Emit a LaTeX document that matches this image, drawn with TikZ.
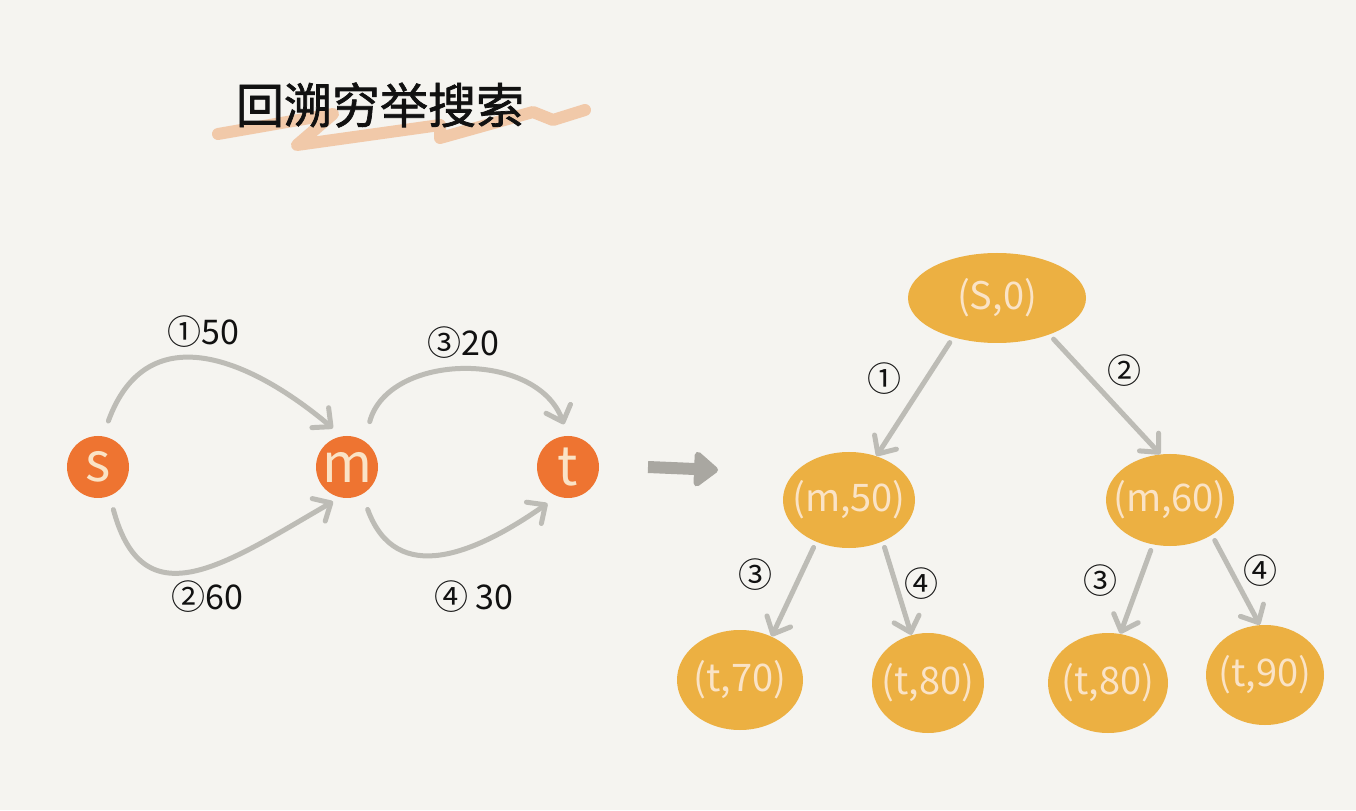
\documentclass[tikz,border=0pt]{standalone}
\usepackage{fontspec}
\setmainfont{Noto Sans CJK SC}
\newfontfamily\titlefont[FakeBold=1.5]{Noto Sans CJK SC}
\usetikzlibrary{shapes.geometric,arrows.meta}

\definecolor{paper}{HTML}{F5F4F0}
\definecolor{nodeorange}{HTML}{EE7431}
\definecolor{stateyellow}{HTML}{ECB042}
\definecolor{cream}{HTML}{FAE3C6}
\definecolor{edgegray}{HTML}{BDBCB6}
\definecolor{arrowgray}{HTML}{A9A7A1}
\definecolor{brush}{HTML}{F0B284}
\definecolor{ink}{HTML}{111111}

\def\Vy{343}
\def\Sx{98}
\def\Mx{347}
\def\Tx{568}

\begin{document}
\begin{tikzpicture}[x=0.5pt, y=0.5pt,
    vertex/.style={circle, fill=nodeorange, text=cream, minimum size=31pt, inner sep=0pt, font=\fontsize{27}{27}\selectfont},
    state/.style={ellipse, fill=stateyellow, text=cream, inner sep=-10pt, font=\fontsize{19}{19}\selectfont},
    edge/.style={draw=edgegray, line width=2.5pt, line cap=round, -{Straight Barb[length=7pt,width=13pt,round]}},
    weight/.style={text=ink, inner sep=1pt, font=\fontsize{17}{17}\selectfont}]
    \fill[paper] (0,0) rectangle (1356,810);
    \useasboundingbox (0,0) rectangle (1356,810);

    \draw[brush, opacity=0.65, line width=6pt, line cap=round, line join=round]
        (218,676) -- (333,696) -- (297,665) -- (440,685) -- (440,672) -- (533,698) -- (553,690) -- (585,700);
    \node[text=ink, font=\titlefont\fontsize{24}{24}\selectfont] (title) at (380,705) {回溯穷举搜索};

    \node[vertex] (s) at (\Sx,\Vy) {s};
    \node[vertex] (m) at (\Mx,\Vy) {m};
    \node[vertex] (t) at (\Tx,\Vy) {t};

    \draw[edge, shorten <=8pt, shorten >=6pt] (s.81) to[out=70, in=140, looseness=1.35] node[midway, weight, above=4.5pt, xshift=0.5pt] (w1) {①50} (m.99);
    \draw[edge, shorten <=7pt, shorten >=4pt] (s.-68) to[out=-75, in=-150, looseness=1.45] node[midway, weight, below=4pt, xshift=6pt] (w2) {②60} (m.-103);
    \draw[edge, shorten <=10pt, shorten >=6pt] (m.56) to[out=75, in=110, looseness=1.15] node[midway, weight, above=5pt] (w3) {③20} (t.90);
    \draw[edge, shorten <=8pt, shorten >=6pt] (m.-61) to[out=-70, in=-145, looseness=1.3] node[midway, weight, below=12pt, xshift=16pt] (w4) {④ 30} (t.-110);

    \coordinate (go) at (648,343);
    \coordinate (gone) at (718,340);
    \draw[arrowgray, line width=6pt, -{Triangle[length=13pt,width=20pt,round]}] (go) -- (gone);

    \node[state, minimum width=89pt, minimum height=45pt] (S0) at (997,512) {(S,0)};
    \node[state, minimum width=66pt, minimum height=48pt] (m50) at (849,310) {(m,50)};
    \node[state, minimum width=64pt, minimum height=46pt] (m60) at (1170,310) {(m,60)};
    \node[state, minimum width=63pt, minimum height=50pt] (t70) at (740,130) {(t,70)};
    \node[state, minimum width=56pt, minimum height=50pt] (t80a) at (928,127) {(t,80)};
    \node[state, minimum width=60pt, minimum height=50pt] (t80b) at (1108,127) {(t,80)};
    \node[state, minimum width=59pt, minimum height=50pt] (t90) at (1265,135) {(t,90)};

    \draw[edge, shorten <=3pt] (S0.222) -- node[pos=0.35, weight, left=10pt] (c1) {①} (m50.58);
    \draw[edge, shorten <=3pt] (S0.325) -- node[pos=0.3, weight, right=10pt] (c2) {②} (m60.102);
    \draw[edge, shorten <=3pt] (m50.232) -- node[pos=0.35, weight, left=12pt] (c3) {③} (t70.54);
    \draw[edge, shorten <=3pt] (m50.309) -- node[pos=0.45, weight, right=2pt] (c4) {④} (t80a.109);
    \draw[edge, shorten <=3pt] (m60.249) -- node[pos=0.4, weight, left=9pt] (c5) {③} (t80b.76);
    \draw[edge, shorten <=3pt] (m60.320) -- node[pos=0.4, weight, right=4pt] (c6) {④} (t90.96);
\end{tikzpicture}
\end{document}
